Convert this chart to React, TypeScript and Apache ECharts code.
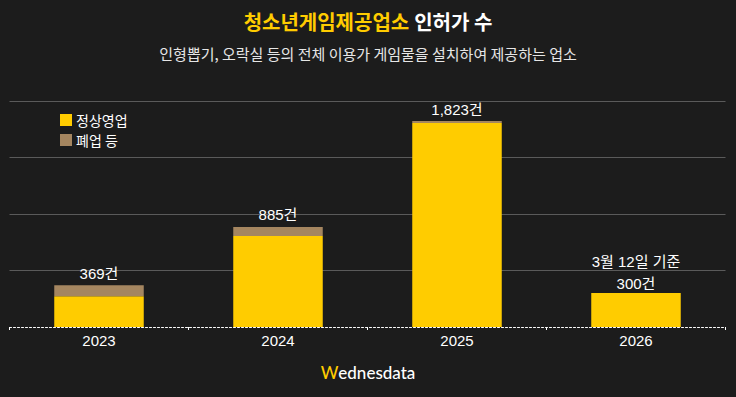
import React, { useEffect, useRef } from "react";
import * as echarts from "echarts";

const categories = ["2023", "2024", "2025", "2026"];
const activeValues = [272, 805, 1805, 300];
const closedValues = [97, 80, 18, 0];
const totalLabels = ["369건", "885건", "1,823건", "3월 12일 기준\n300건"];
const legendNames = ["정상영업", "폐업 등"];
const yTicks = [0, 500, 1000, 1500, 2000];

const FONT = "'Liberation Sans', 'Noto Sans CJK KR', sans-serif";
const KR = "'Noto Sans CJK KR', sans-serif";

export default function App() {
  const ref = useRef<HTMLDivElement>(null);
  useEffect(() => {
    if (!ref.current) return;
    const chart = echarts.init(ref.current, null, { renderer: "svg" });
    const closedData = closedValues.map((v, i) =>
      i === closedValues.length - 1 ? { value: v, label: { distance: -1 } } : v
    );
    chart.setOption({
      animation: false,
      backgroundColor: "#1c1c1c",
      title: [
        {
          text: "{y|청소년게임제공업소} {w|인허가 수}",
          left: "center",
          top: 6,
          textStyle: {
            rich: {
              y: { color: "#FFCC00", fontSize: 20, fontWeight: "bold", fontFamily: KR },
              w: { color: "#ffffff", fontSize: 20, fontWeight: "bold", fontFamily: KR },
            },
          },
        },
        {
          text: "인형뽑기, 오락실 등의 전체 이용가 게임물을 설치하여 제공하는 업소",
          left: "center",
          top: 41,
          textStyle: { color: "#e6e6e6", fontSize: 15, fontWeight: "normal", fontFamily: KR },
        },
        {
          text: "{v|W}{t|ednesdata}",
          left: "center",
          top: 359,
          textStyle: {
            rich: {
              v: { color: "#FFCC00", fontSize: 17, fontFamily: "Lato, sans-serif", fontWeight: 500 },
              t: { color: "#ffffff", fontSize: 17, fontFamily: "Lato, sans-serif", fontWeight: 500 },
            },
          },
        },
      ],
      legend: {
        data: legendNames,
        orient: "vertical",
        left: 55,
        top: 108,
        itemWidth: 12,
        itemHeight: 12,
        itemGap: 6,
        icon: "rect",
        textStyle: { color: "#ffffff", fontSize: 14, fontFamily: KR, padding: [0, 0, 0, -1] },
      },
      grid: { left: 9.5, right: 10.5, top: 101, bottom: 70, containLabel: false },
      xAxis: {
        type: "category",
        data: categories,
        axisLine: { show: true, lineStyle: { color: "#ffffff", type: [2, 2], width: 1 } },
        axisTick: { show: true, length: 3, lineStyle: { color: "#ffffff" } },
        axisLabel: { color: "#ffffff", fontSize: 15, margin: 6, fontFamily: FONT },
        z: 5,
      },
      yAxis: {
        type: "value",
        min: yTicks[0],
        max: yTicks[yTicks.length - 1],
        interval: 500,
        axisLabel: { show: false },
        axisLine: { show: false },
        axisTick: { show: false },
        splitLine: {
          show: true,
          lineStyle: { color: ["transparent", "#5a5a5a", "#5a5a5a", "#5a5a5a", "#5a5a5a"], width: 1 },
        },
      },
      series: [
        {
          name: legendNames[0],
          type: "bar",
          stack: "total",
          data: activeValues,
          barWidth: "50%",
          itemStyle: { color: "#FFCC00" },
        },
        {
          name: legendNames[1],
          type: "bar",
          stack: "total",
          data: closedData,
          barWidth: "50%",
          itemStyle: { color: "#A58660" },
          label: {
            show: true,
            position: "top",
            distance: 1,
            color: "#ffffff",
            fontSize: 15,
            lineHeight: 22,
            fontFamily: FONT,
            formatter: (p: any) => totalLabels[p.dataIndex],
          },
        },
      ],
    });
    return () => chart.dispose();
  }, []);
  return (
    <div
      ref={ref}
      style={{ position: "fixed", left: 0, top: 0, width: 736, height: 397 }}
    />
  );
}
